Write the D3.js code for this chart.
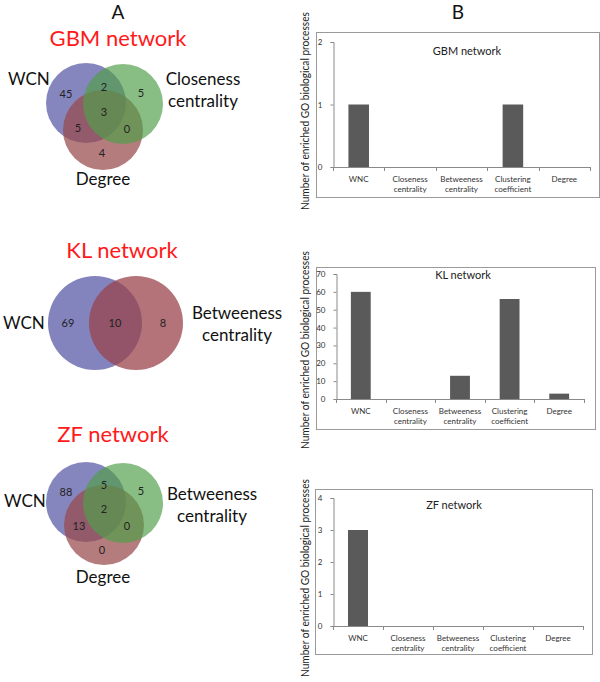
<!DOCTYPE html>
<html><head><meta charset="utf-8">
<script src="https://cdn.jsdelivr.net/npm/d3@7"></script>
<style>body{margin:0;background:#fff}svg{display:block}text{font-family:Lato,"Open Sans",sans-serif}</style>
</head><body>
<script>
// ---------- data ----------
const categories = ["WNC", "Closeness centrality", "Betweeness centrality", "Clustering coefficient", "Degree"];
const gbmValues = [1, 0, 0, 1, 0];
const klValues = [60, 0, 13, 56, 3];
const zfValues = [3, 0, 0, 0, 0];
const gbmTicks = [0, 1, 2];
const klTicks = [0, 10, 20, 30, 40, 50, 60, 70];
const zfTicks = [0, 1, 2, 3, 4];
const chartTitles = ["GBM network", "KL network", "ZF network"];
const yAxisLabel = "Number of enriched GO biological processes";

const gbmSets = ["WCN", "Closeness centrality", "Degree"];
// regions: A only, A∩B, B only, A∩B∩C, A∩C, B∩C, C only
const gbmCounts = [45, 2, 5, 3, 5, 0, 4];
const klSets = ["WCN", "Betweeness centrality"];
// regions: A only, A∩B, B only
const klCounts = [69, 10, 8];
const zfSets = ["WCN", "Betweeness centrality", "Degree"];
const zfCounts = [88, 5, 5, 2, 13, 0, 0];

// ---------- svg ----------
const W = 600, H = 682;
const svg = d3.select("body").append("svg").attr("width", W).attr("height", H);

svg.append("text").attr("x", 118).attr("y", 19).attr("text-anchor", "middle")
  .attr("font-size", 19).attr("fill", "#111").text("A");
svg.append("text").attr("x", 458).attr("y", 19).attr("text-anchor", "middle")
  .attr("font-size", 19).attr("fill", "#111").text("B");

// ---------- Venn diagrams ----------
// circle styles: [fill, opacity]; drawing order blue, brown, green
const setStyles = [["rgb(88,88,166)", 0.72], ["rgb(80,158,72)", 0.68], ["rgb(152,74,76)", 0.72]];
const drawOrder = [0, 2, 1];
const setStyles2 = [["rgb(88,88,166)", 0.74], ["rgb(152,66,74)", 0.74]];

function venn3(cfg, sets, counts) {
  const g = svg.append("g");
  g.append("text").attr("x", cfg.titleX).attr("y", cfg.titleY).attr("text-anchor", "middle")
    .attr("font-size", 22).attr("fill", "#ff1a1a").text(cfg.title);
  g.selectAll("circle").data(drawOrder).join("circle")
    .attr("cx", i => cfg.circles[i][0]).attr("cy", i => cfg.circles[i][1]).attr("r", cfg.r)
    .attr("fill", i => setStyles[i][0]).attr("fill-opacity", i => setStyles[i][1]);
  g.selectAll("text.num").data(counts).join("text").attr("class", "num")
    .attr("x", (d, i) => cfg.nums[i][0]).attr("y", (d, i) => cfg.nums[i][1])
    .attr("text-anchor", "middle").attr("dy", "0.35em").attr("font-size", 11)
    .attr("fill", "#222").text(d => d);
  // labels
  g.append("text").attr("x", cfg.labA[0]).attr("y", cfg.labA[1]).attr("font-size", 17)
    .attr("fill", "#111").text(sets[0]);
  const words = sets[1].split(" ");
  words.forEach((w, i) => g.append("text").attr("x", cfg.labB[0]).attr("y", cfg.labB[1] + i * 22)
    .attr("text-anchor", "middle").attr("font-size", 17).attr("fill", "#111").text(w));
  g.append("text").attr("x", cfg.labC[0]).attr("y", cfg.labC[1]).attr("text-anchor", "middle")
    .attr("font-size", 17).attr("fill", "#111").text(sets[2]);
}

venn3({
  title: "GBM network", titleX: 118, titleY: 46, r: 40,
  circles: [[86, 103], [123, 104], [103, 130]],
  nums: [[66, 94], [104, 87], [141, 93], [104, 112], [78, 128], [127, 129], [102, 153]],
  labA: [8, 85], labB: [203, 85], labC: [103, 185]
}, gbmSets, gbmCounts);

(function venn2() {
  const g = svg.append("g");
  g.append("text").attr("x", 122).attr("y", 258).attr("text-anchor", "middle")
    .attr("font-size", 22).attr("fill", "#ff1a1a").text("KL network");
  g.selectAll("circle").data([[95, 323], [136, 323]]).join("circle")
    .attr("cx", d => d[0]).attr("cy", d => d[1]).attr("r", 47)
    .attr("fill", (d, i) => setStyles2[i][0]).attr("fill-opacity", (d, i) => setStyles2[i][1]);
  const pos = [[68, 323], [115, 323], [163, 323]];
  g.selectAll("text.num").data(klCounts).join("text").attr("class", "num")
    .attr("x", (d, i) => pos[i][0]).attr("y", (d, i) => pos[i][1])
    .attr("text-anchor", "middle").attr("dy", "0.35em").attr("font-size", 11)
    .attr("fill", "#222").text(d => d);
  g.append("text").attr("x", 3).attr("y", 329).attr("font-size", 17).attr("fill", "#111").text(klSets[0]);
  klSets[1].split(" ").forEach((w, i) => g.append("text").attr("x", 237).attr("y", 319 + i * 22)
    .attr("text-anchor", "middle").attr("font-size", 17).attr("fill", "#111").text(w));
})();

venn3({
  title: "ZF network", titleX: 113, titleY: 442, r: 40,
  circles: [[86, 502], [123, 503], [104, 525]],
  nums: [[66, 492], [104, 485], [141, 491], [104, 509], [79, 526], [127, 526], [102, 550]],
  labA: [4, 507], labB: [212, 500], labC: [103, 583]
}, zfSets, zfCounts);

// ---------- bar charts ----------
function barChart(cfg, values, ticks, title) {
  const g = svg.append("g");
  g.append("rect").attr("x", cfg.box[0] + 0.5).attr("y", cfg.box[1] + 0.5)
    .attr("width", cfg.box[2] - cfg.box[0]).attr("height", cfg.box[3] - cfg.box[1])
    .attr("fill", "#fff").attr("stroke", "#9a9a9a").attr("stroke-width", 1);
  const x = d3.scaleBand().domain(categories).range([cfg.x0, cfg.x1])
    .paddingInner(0.6).paddingOuter(0.3);
  const y = d3.scaleLinear().domain([0, d3.max(ticks)]).range([cfg.y0, cfg.yTop]);
  // y axis
  const ya = g.append("g").attr("transform", `translate(${cfg.x0 + 0.5},0)`)
    .call(d3.axisLeft(y).tickValues(ticks).tickFormat(d3.format("d")).tickSize(3).tickPadding(8));
  ya.select(".domain").attr("stroke", "#8a8a8a");
  ya.selectAll(".tick line").attr("stroke", "#8a8a8a");
  ya.selectAll(".tick text").attr("font-size", 8).attr("fill", "#333").attr("font-family", "Lato, sans-serif");
  // x axis line + boundary ticks
  g.append("line").attr("x1", cfg.x0).attr("x2", cfg.x1).attr("y1", cfg.y0 + 0.5).attr("y2", cfg.y0 + 0.5)
    .attr("stroke", "#8a8a8a");
  const step = x.step();
  const bounds = d3.range(categories.length + 1).map(i => cfg.x0 + i * step);
  g.selectAll("line.bt").data(bounds).join("line").attr("class", "bt")
    .attr("x1", d => Math.round(d) + 0.5).attr("x2", d => Math.round(d) + 0.5)
    .attr("y1", cfg.y0).attr("y2", cfg.y0 + 4).attr("stroke", "#8a8a8a");
  // bars
  g.selectAll("rect.bar").data(values).join("rect").attr("class", "bar")
    .attr("x", (d, i) => x(categories[i])).attr("width", x.bandwidth())
    .attr("y", d => y(d)).attr("height", d => y(0) - y(d)).attr("fill", "#5a5a5a");
  // category labels
  categories.forEach(c => {
    const words = c.split(" ");
    words.forEach((w, i) => g.append("text")
      .attr("x", x(c) + x.bandwidth() / 2).attr("y", cfg.y0 + 15 + i * 9.5)
      .attr("text-anchor", "middle").attr("font-size", 8).attr("fill", "#333").text(w));
  });
  g.append("text").attr("x", cfg.titleX).attr("y", cfg.titleY).attr("text-anchor", "middle")
    .attr("font-size", 11).attr("fill", "#222").text(title);
  // y-axis label (rotated; compressed along its length to match the narrow original face)
  const lab = g.append("text")
    .attr("text-anchor", "middle").attr("font-size", 12).attr("fill", "#222").text(yAxisLabel);
  const len = lab.node().getComputedTextLength() || 200;
  const sx = Math.min(1, 198 / len);
  lab.attr("transform", `translate(${cfg.labX},${cfg.labY}) rotate(-90) scale(${sx},1)`);
}

barChart({ box: [316, 32, 599, 197], x0: 333, x1: 590, y0: 167, yTop: 42, titleX: 467, titleY: 55, labX: 309, labY: 111 },
  gbmValues, gbmTicks, chartTitles[0]);
barChart({ box: [316, 267, 595, 429], x0: 336, x1: 584, y0: 399, yTop: 274, titleX: 463, titleY: 279, labX: 309, labY: 350 },
  klValues, klTicks, chartTitles[1]);
barChart({ box: [315, 489, 592, 654], x0: 333, x1: 583, y0: 626, yTop: 498, titleX: 454, titleY: 509, labX: 309, labY: 578 },
  zfValues, zfTicks, chartTitles[2]);
</script>
</body></html>
